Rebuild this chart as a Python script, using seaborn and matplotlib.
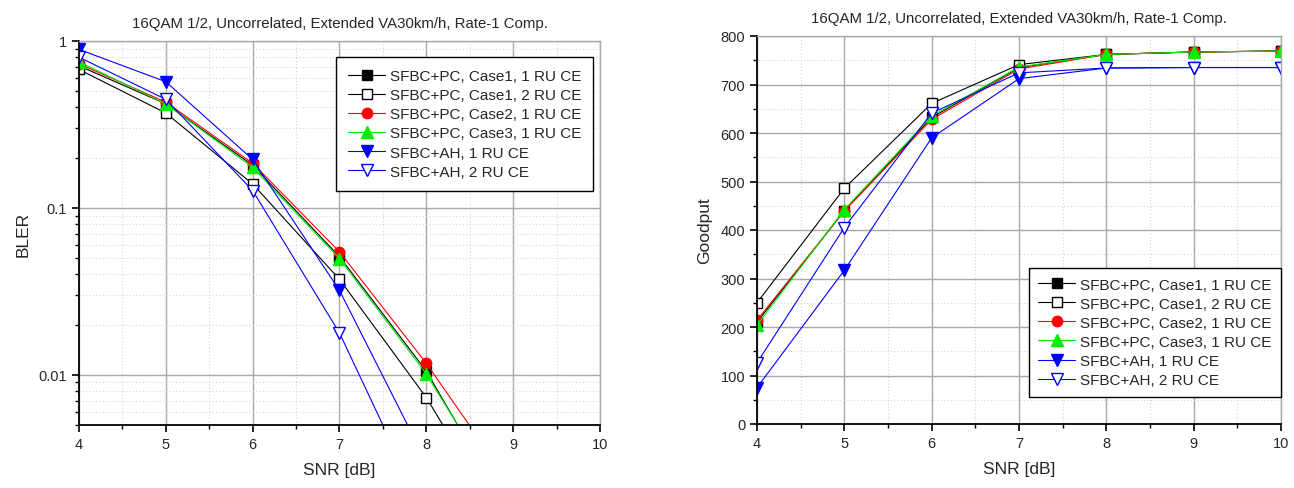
import numpy as np
import pandas as pd
import matplotlib
matplotlib.use("Agg")
import matplotlib.pyplot as plt
import seaborn as sns
from matplotlib.ticker import MultipleLocator, FixedLocator, FixedFormatter, NullFormatter

sns.set_style("ticks")
plt.rcParams['font.family'] = ['Liberation Sans', 'DejaVu Sans']

title = "16QAM 1/2, Uncorrelated, Extended VA30km/h, Rate-1 Comp."
labels = ["SFBC+PC, Case1, 1 RU CE", "SFBC+PC, Case1, 2 RU CE",
          "SFBC+PC, Case2, 1 RU CE", "SFBC+PC, Case3, 1 RU CE",
          "SFBC+AH, 1 RU CE", "SFBC+AH, 2 RU CE"]

# BLER data (left)
snr_pc = [4, 5, 6, 7, 8, 9]
snr_ah = [4, 5, 6, 7, 8]
bler_c1_1 = [0.71, 0.42, 0.18, 0.051, 0.0105, 0.00134]
bler_c1_2 = [0.675, 0.37, 0.139, 0.0373, 0.0073, 0.0010]
bler_c2_1 = [0.73, 0.43, 0.185, 0.0545, 0.0117, 0.0021]
bler_c3_1 = [0.75, 0.42, 0.175, 0.0497, 0.0101, 0.00143]
bler_ah_1 = [0.89, 0.57, 0.195, 0.032, 0.0030]
bler_ah_2 = [0.80, 0.447, 0.127, 0.0178, 0.0014]

# Goodput data (right)
snr_gp = [4, 5, 6, 7, 8, 9, 10]
gp_c1_1 = [210, 440, 632, 735, 762, 767, 769]
gp_c1_2 = [250, 486, 661, 741, 762, 767, 769]
gp_c2_1 = [214, 439, 628, 732, 762, 767, 769]
gp_c3_1 = [204, 442, 635, 736, 762, 767, 769]
gp_ah_1 = [75, 317, 590, 712, 734, 735, 735]
gp_ah_2 = [126, 405, 641, 724, 734, 735, 735]

bler_x = [snr_pc, snr_pc, snr_pc, snr_pc, snr_ah, snr_ah]
bler_y = [bler_c1_1, bler_c1_2, bler_c2_1, bler_c3_1, bler_ah_1, bler_ah_2]
gp_y = [gp_c1_1, gp_c1_2, gp_c2_1, gp_c3_1, gp_ah_1, gp_ah_2]

styles = [
    dict(color="black", marker="s", mfc="black", ms=6.5),
    dict(color="black", marker="s", mfc="white", ms=6.5),
    dict(color="#ff0000", marker="o", mfc="#ff0000", ms=7.5),
    dict(color="#00ee00", marker="^", mfc="#00ee00", ms=8),
    dict(color="#0000ff", marker="v", mfc="#0000ff", ms=8),
    dict(color="#0000ff", marker="v", mfc="white", ms=8),
]

fig = plt.figure(figsize=(12.94, 4.89), dpi=100)
W, H = 1294, 489
axL = fig.add_axes([79 / W, 1 - 426 / H, 521 / W, 384 / H])
axR = fig.add_axes([757 / W, 1 - 425 / H, 524 / W, 388 / H])


def draw(ax, xs, ys):
    for x, y, lab, st in zip(xs, ys, labels, styles):
        df = pd.DataFrame({"x": x, "y": y})
        sns.lineplot(data=df, x="x", y="y", ax=ax, color=st["color"], lw=0.8,
                     marker=st["marker"], markersize=st["ms"],
                     markerfacecolor=st["mfc"], markeredgecolor=st["color"],
                     markeredgewidth=1.0, label=lab, sort=False)


def style_axes(ax):
    ax.set_xlim(4, 10)
    ax.xaxis.set_major_locator(MultipleLocator(1))
    ax.xaxis.set_minor_locator(MultipleLocator(0.5))
    ax.grid(which="major", color="#a8a8a8", lw=1.0, ls="-")
    ax.grid(which="minor", color="#d4d4d4", lw=0.8, ls=(0, (1, 2)))
    ax.set_axisbelow(True)
    for s in ["top", "right"]:
        ax.spines[s].set_color("#a8a8a8")
        ax.spines[s].set_linewidth(1.0)
    for s in ["left", "bottom"]:
        ax.spines[s].set_color("black")
        ax.spines[s].set_linewidth(1.3)
    ax.tick_params(which="major", direction="out", length=5, width=1.2,
                   labelsize=10.5, color="black")
    ax.tick_params(which="minor", direction="out", length=3, width=1.0,
                   color="black")
    ax.set_xlabel("SNR [dB]", fontsize=12.5, labelpad=8)
    ax.set_title(title, fontsize=10.8, pad=10)


leg_kw = dict(fontsize=11, frameon=True, fancybox=False, edgecolor="black",
              framealpha=1, handlelength=2.4, handletextpad=0.3,
              labelspacing=0.33)

draw(axL, bler_x, bler_y)
axL.set_yscale("log")
axL.set_ylim(0.005, 1)
axL.yaxis.set_major_locator(FixedLocator([0.01, 0.1, 1]))
axL.yaxis.set_major_formatter(FixedFormatter(["0.01", "0.1", "1"]))
minors = [m * 10.0 ** e for e in (-3, -2, -1) for m in range(2, 10)]
axL.yaxis.set_minor_locator(FixedLocator([v for v in minors if 0.005 <= v <= 1]))
axL.yaxis.set_minor_formatter(NullFormatter())
style_axes(axL)
axL.set_ylabel("BLER", fontsize=12.5, labelpad=6)
legL = axL.legend(loc="upper right", bbox_to_anchor=(0.987, 0.958),
                  borderaxespad=0, borderpad=0.8, **leg_kw)
legL.get_frame().set_linewidth(1.0)

draw(axR, [snr_gp] * 6, gp_y)
axR.set_ylim(0, 800)
axR.yaxis.set_major_locator(MultipleLocator(100))
axR.yaxis.set_minor_locator(MultipleLocator(50))
style_axes(axR)
axR.set_ylabel("Goodput", fontsize=12.5, labelpad=6)
legR = axR.legend(loc="lower right", bbox_to_anchor=(1.0, 0.07),
                  borderaxespad=0, borderpad=0.65, **leg_kw)
legR.get_frame().set_linewidth(1.0)

fig.savefig("out.png", dpi=100)
